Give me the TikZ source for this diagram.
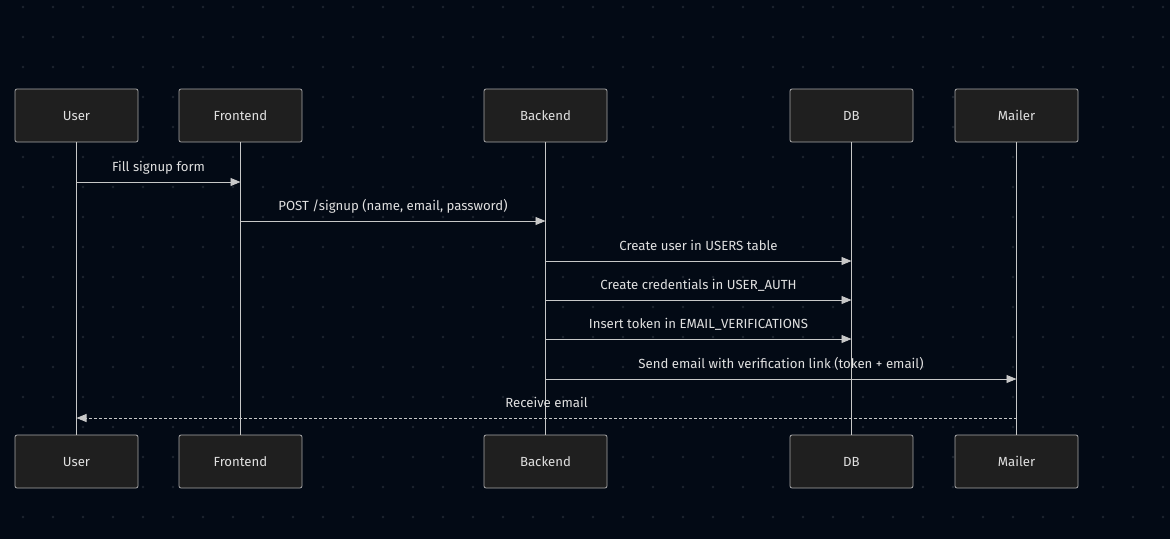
\documentclass[tikz,border=0pt]{standalone}
\usepackage{fontspec}
\setmainfont{Fira Sans}
\usetikzlibrary{arrows.meta,calc}
\definecolor{bg}{HTML}{030A15}
\definecolor{dotc}{HTML}{1E2530}
\definecolor{boxfill}{HTML}{1F1F1F}
\definecolor{boxline}{HTML}{A8A8A8}
\definecolor{ink}{HTML}{E0E0E0}
\definecolor{wire}{HTML}{C8C8C8}
\tikzset{
  actor/.style={draw=boxline, fill=boxfill, rounded corners=2pt, line width=0.8pt,
    minimum width=123pt, minimum height=53pt, inner sep=0pt, text=ink,
    text height=12pt, text depth=1.6pt,
    font=\fontsize{13.2}{15}\selectfont},
  life/.style={draw=wire, line width=0.9pt},
  msg/.style={draw=wire, line width=0.9pt, -{Triangle[length=10pt,width=8pt]}},
  reply/.style={msg, dash pattern=on 2.5pt off 2.5pt},
  lbl/.style={text=ink, font=\fontsize{13.2}{15}\selectfont, inner sep=0pt}
}
\begin{document}
\begin{tikzpicture}[x=1pt,y=-1pt]
\useasboundingbox (0,0) rectangle (1170,539);
\fill[bg] (0,0) rectangle (1170,539);
% dotted grid
\foreach \i in {0,...,38} {
  \foreach \j in {0,...,17} {
    \fill[dotc] ({23+30*\i},{7+30*\j}) circle (1.3pt);
  }
}
% participants (top and bottom)
\foreach \n/\x/\t in {user/76.5/User, front/240.5/Frontend, back/545.5/Backend, db/851.5/DB, mail/1016.5/Mailer} {
  \node[actor] (\n T) at (\x,115.5) {\t};
  \node[actor] (\n B) at (\x,461.5) {\t};
  \draw[life] (\n T.south) -- (\n B.north);
}
% messages
\foreach \a/\b/\y/\t in {
  user/front/182/Fill signup form,
  front/back/221/{POST /signup (name, email, password)},
  back/db/261/Create user in USERS table,
  back/db/300/Create credentials in USER\_AUTH,
  back/db/339/Insert token in EMAIL\_VERIFICATIONS,
  back/mail/379/Send email with verification link (token + email)} {
  \coordinate (s) at (\a T.south |- 0,\y);
  \coordinate (e) at (\b T.south |- 0,\y);
  \draw[msg] (s) -- (e);
  \node[lbl, anchor=base] (m) at ($(s)!0.5!(e)+(0,-11)$) {\t};
}
\coordinate (r1) at (mailT.south |- 0,418);
\coordinate (r2) at (userT.south |- 0,418);
\draw[reply] (r1) -- (r2);
\node[lbl, anchor=base] (rl) at ($(r1)!0.5!(r2)+(0,-11)$) {Receive email};
\end{tikzpicture}
\end{document}
